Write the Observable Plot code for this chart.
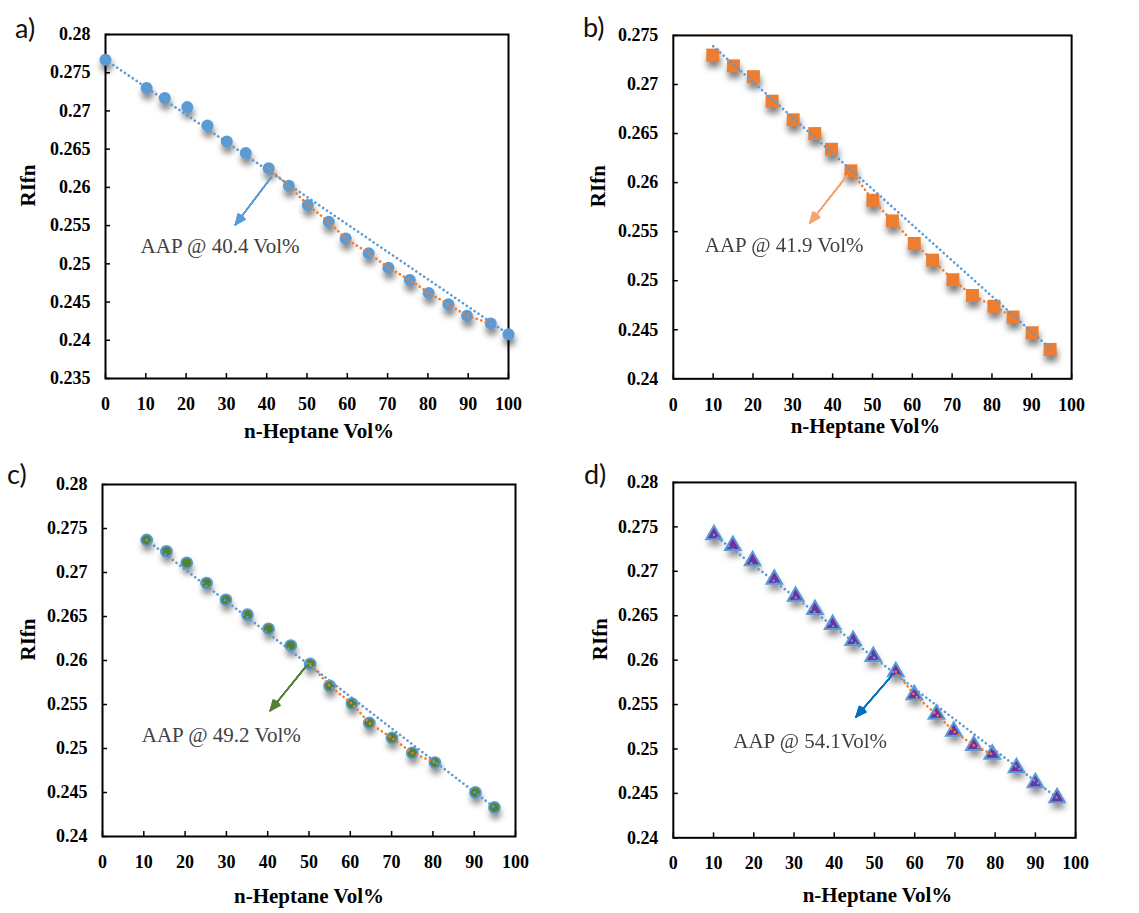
<!DOCTYPE html>
<html><head><meta charset="utf-8">
<script src="https://cdn.jsdelivr.net/npm/d3@7"></script>
<script src="https://cdn.jsdelivr.net/npm/@observablehq/plot@0.6"></script>
<style>
body{margin:0;background:#fff;}
#wrap{position:relative;width:1139px;height:913px;background:#fff;overflow:hidden}
.panel{position:absolute}
#wrap svg, #wrap svg text{font-family:"Liberation Serif","Times New Roman",serif !important;}
.lab{position:absolute;font-family:Lato,"Open Sans",sans-serif;font-size:27px;color:#111;line-height:1}
</style></head><body><div id="wrap"></div><script>
// ---------- data ----------
const xTicks = [0,10,20,30,40,50,60,70,80,90,100];
const yTicksA = [0.235,0.24,0.245,0.25,0.255,0.26,0.265,0.27,0.275,0.28];
const yTicksB = [0.24,0.245,0.25,0.255,0.26,0.265,0.27,0.275];
const yTicksCD = [0.24,0.245,0.25,0.255,0.26,0.265,0.27,0.275,0.28];

const xA = [0,10.2,14.7,20.3,25.3,30.1,34.8,40.5,45.5,50.2,55.4,59.6,65.3,70.2,75.5,80.2,85.1,89.7,95.6,100];
const yA = [0.2767,0.2730,0.2717,0.2705,0.2681,0.2660,0.2645,0.2625,0.2602,0.2577,0.2555,0.2533,0.2514,0.2495,0.2479,0.2462,0.2447,0.2432,0.2422,0.2408];
const xB = [9.9,15.1,20.1,24.8,30.1,35.5,39.7,44.6,50.1,55.0,60.5,65.1,70.2,75.1,80.5,85.3,90.1,94.6];
const yB = [0.2730,0.2719,0.2708,0.2683,0.2664,0.2650,0.2634,0.2612,0.2582,0.2561,0.2538,0.2521,0.2501,0.2485,0.2474,0.2463,0.2447,0.2430];
const xC = [10.7,15.5,20.4,25.2,29.9,35.1,40.2,45.6,50.3,55.0,60.4,64.6,70.1,75.0,80.5,90.3,94.9];
const yC = [0.2737,0.2724,0.2711,0.2688,0.2669,0.2652,0.2636,0.2617,0.2596,0.2571,0.2551,0.2529,0.2512,0.2495,0.2484,0.2450,0.2433];
const xD = [10.1,14.8,19.7,25.1,30.4,35.2,39.6,44.7,49.7,55.3,59.9,65.4,69.7,74.7,79.3,85.3,90.0,95.4];
const yD = [0.2741,0.2729,0.2712,0.2691,0.2672,0.2657,0.2640,0.2622,0.2604,0.2587,0.2561,0.2539,0.2520,0.2504,0.2494,0.2479,0.2462,0.2445];

// blue linear trend end points (x, y)
const blueTrendX = {a:[0,100], b:[10,94.6], c:[10.7,94.9], d:[10.1,95.4]};
const blueTrendY = {a:[0.2767,0.2408], b:[0.2739,0.2431], c:[0.2737,0.2433], d:[0.2741,0.2445]};
// orange segment (x range of points after the AAP)
const orangeRange = {a:[40,96], b:[44,86], c:[50,81], d:[55,80]};
// annotation arrows [x1,y1,x2,y2] and labels
const arrowPts = {a:[41.1,0.2613,32.2,0.2551], b:[43.6,0.2607,34.3,0.2559], c:[49.4,0.2594,40.6,0.2543], d:[54.2,0.2582,45.4,0.2536]};
const noteText = {a:"AAP @ 40.4 Vol%", b:"AAP @ 41.9 Vol%", c:"AAP @ 49.2 Vol%", d:"AAP @ 54.1Vol%"};
const notePos = {a:[8.7,0.2523], b:[7.9,0.2536], c:[9.5,0.2515], d:[14.9,0.2509]};
const panelLetters = ["a)","b)","c)","d)"];
const xTitle = "n-Heptane Vol%";
const yTitle = "RIfn";

// ---------- drawing ----------
const wrap = document.getElementById("wrap");
const fmtY = d => String(+d.toFixed(3));
const SERIF = "'Liberation Serif', 'Times New Roman', serif";
const headAngles = [6, 12, 18, 24, 30, 36, 42, 48];

function makePanel(k, o) {
  const pts = o.xs.map((x, i) => ({x, y: o.ys[i]}));
  const orange = pts.filter(d => d.x >= orangeRange[k][0] && d.x <= orangeRange[k][1]);
  const blue = blueTrendX[k].map((x, i) => ({x, y: blueTrendY[k][i]}));
  const ar = arrowPts[k];
  const dotted = {strokeWidth: 2.6, strokeDasharray: "0.1,4.6", strokeLinecap: "round"};
  const arrowMarks = headAngles.map(a => Plot.arrow([ar], {x1: d => d[0], y1: d => d[1], x2: d => d[2], y2: d => d[3],
    stroke: o.arrowColor, strokeWidth: 1.3, headLength: 13, headAngle: a}));
  const svg = Plot.plot({
    width: 570, height: 455,
    marginLeft: o.m[0], marginRight: o.m[1], marginTop: o.m[2], marginBottom: o.m[3],
    x: {domain: [0, 100]},
    y: {domain: o.yDomain},
    style: {fontFamily: SERIF, fontSize: "18px", fontWeight: "bold", color: "#000", background: "transparent", overflow: "visible"},
    marks: [
      Plot.dot(pts, {x: "x", y: "y", r: o.r, symbol: o.symbol, fill: "#000", fillOpacity: 0.5, dy: 6, dx: 1}),
      Plot.axisX({ticks: xTicks, tickSize: -5, tickFormat: () => "", label: null, strokeWidth: 1.5}),
      Plot.axisX({ticks: xTicks, tickSize: 0, tickPadding: o.xPad, tickFormat: d => String(d), label: null, fontFamily: SERIF}),
      Plot.axisY({ticks: o.yTicks, tickSize: -5, tickFormat: () => "", label: null, strokeWidth: 1.5}),
      Plot.axisY({ticks: o.yTicks, tickSize: 0, tickPadding: 15, tickFormat: fmtY, label: null, fontFamily: SERIF}),
      Plot.frame({stroke: "#000", strokeWidth: 2}),
      Plot.dot(pts, {x: "x", y: "y", r: o.r, symbol: o.symbol, fill: o.fill, stroke: o.stroke, strokeWidth: o.sw}),
      Plot.line(orange, {x: "x", y: "y", stroke: "#ED7D31", ...dotted}),
      Plot.line(blue, {x: "x", y: "y", stroke: "#5B9BD5", ...dotted}),
      ...arrowMarks,
      Plot.text([noteText[k]], {x: notePos[k][0], y: notePos[k][1], text: d => d, textAnchor: "start", fontSize: 21, fontWeight: "normal", fill: "#404040", fontFamily: SERIF}),
      Plot.text([xTitle], {frameAnchor: "bottom", dy: o.titleDy, dx: o.titleDx, fontSize: 21, text: d => d, fontFamily: SERIF}),
      Plot.text([yTitle], {frameAnchor: "left", rotate: -90, dx: -o.yTitleOff, fontSize: 21, text: d => d, fontFamily: SERIF})
    ]
  });
  const shadow = svg.querySelector('g[aria-label="dot"]');
  if (shadow) shadow.style.filter = "blur(3px)";
  const div = document.createElement("div");
  div.className = "panel";
  div.style.left = o.left + "px";
  div.style.top = o.top + "px";
  div.appendChild(svg);
  wrap.appendChild(div);
  const lab = document.createElement("div");
  lab.className = "lab";
  lab.textContent = o.letter;
  lab.style.left = o.labX + "px";
  lab.style.top = o.labY + "px";
  wrap.appendChild(lab);
}

makePanel("a", {xs: xA, ys: yA, yDomain: [0.235, 0.28], yTicks: yTicksA, m: [105, 62, 34, 77], left: 0, top: 0,
  r: 6, symbol: "circle", fill: "#5B9BD5", stroke: "none", sw: 0, arrowColor: "#5B9BD5",
  xPad: 19, titleDy: 59, titleDx: 12, yTitleOff: 77, letter: panelLetters[0], labX: 15, labY: 14});
makePanel("b", {xs: xB, ys: yB, yDomain: [0.24, 0.275], yTicks: yTicksB, m: [103, 68, 35, 76], left: 570, top: 0,
  r: 7.3, symbol: "square", fill: "#ED7D31", stroke: "none", sw: 0, arrowColor: "#F4A470",
  xPad: 19, titleDy: 54, titleDx: -7, yTitleOff: 75, letter: panelLetters[1], labX: 583, labY: 13});
makePanel("c", {xs: xC, ys: yC, yDomain: [0.24, 0.28], yTicks: yTicksCD, m: [102, 55, 29, 74], left: 0, top: 455,
  r: 5.5, symbol: "circle", fill: "#548235", stroke: "#5B9BD5", sw: 1.8, arrowColor: "#548235",
  xPad: 19, titleDy: 66, titleDx: 0, yTitleOff: 74, letter: panelLetters[2], labX: 7, labY: 460});
makePanel("d", {xs: xD, ys: yD, yDomain: [0.24, 0.28], yTicks: yTicksCD, m: [103, 64, 27, 72], left: 570, top: 455,
  r: 5.8, symbol: "triangle", fill: "#7030A0", stroke: "#5B9BD5", sw: 2, arrowColor: "#0070C0",
  xPad: 18, titleDy: 64, titleDx: 3, yTitleOff: 73, letter: panelLetters[3], labX: 584, labY: 460});
</script></body></html>
